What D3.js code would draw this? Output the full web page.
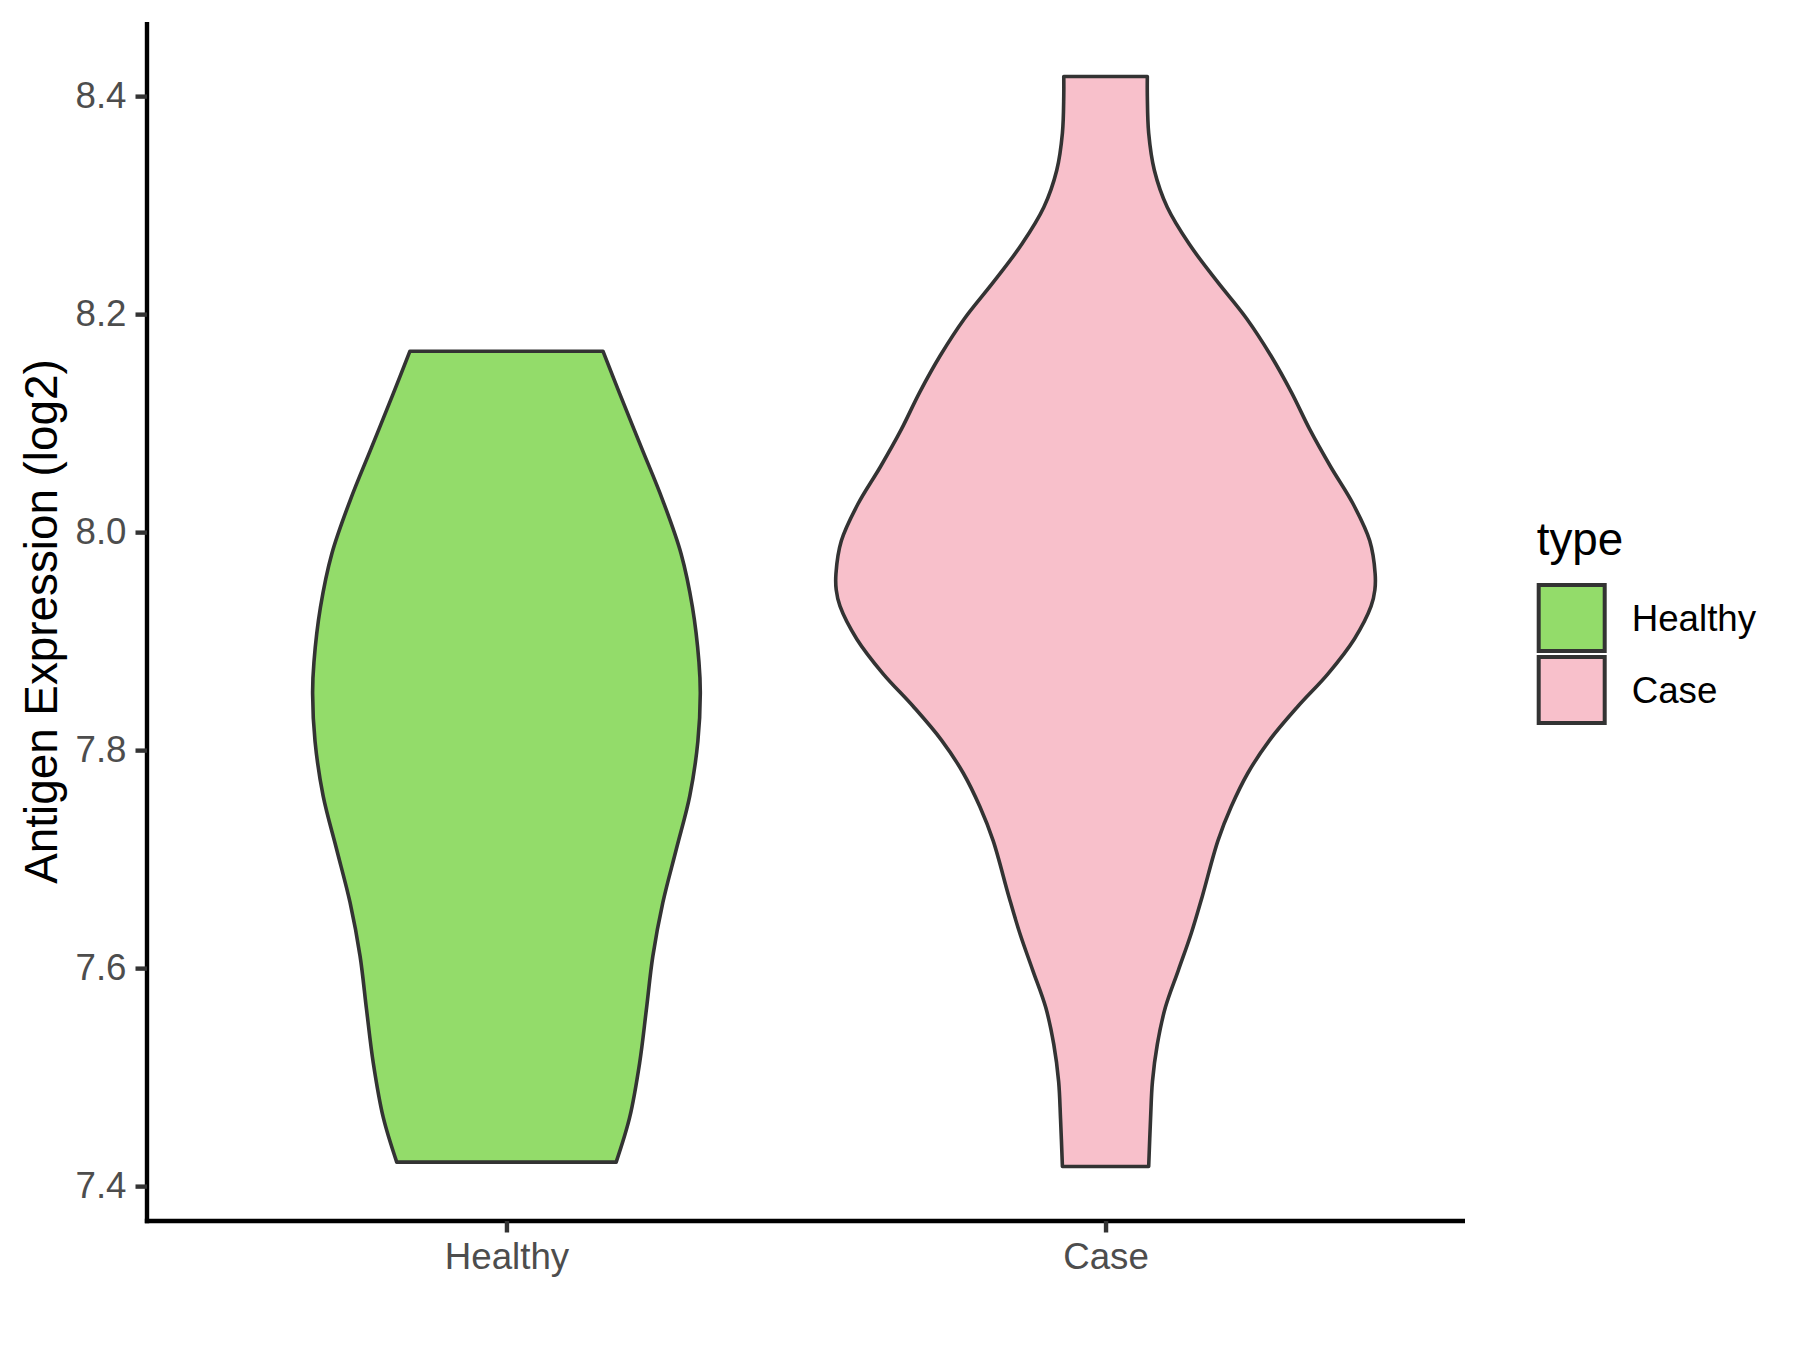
<!DOCTYPE html>
<html>
<head>
<meta charset="utf-8">
<script src="https://cdn.jsdelivr.net/npm/d3@7"></script>
<style>
  body { margin: 0; background: #fff; }
  text { font-family: "Liberation Sans", Arial, sans-serif; }
</style>
</head>
<body>
<div id="chart"></div>
<script>
// groups on the x axis
var categories = ["Healthy", "Case"];
var yTicks = [7.4, 7.6, 7.8, 8.0, 8.2, 8.4];

// violin outlines: expression value and scaled density (1 = widest)
var healthyY = [8.166, 8.127, 8.078, 8.029, 7.980, 7.931, 7.881, 7.852, 7.808, 7.758,
  7.709, 7.660, 7.611, 7.562, 7.513, 7.463, 7.422];
var healthyW = [0.358, 0.420, 0.500, 0.580, 0.648, 0.690, 0.714, 0.719, 0.710, 0.680,
  0.630, 0.580, 0.543, 0.519, 0.494, 0.457, 0.407];

var caseY = [8.418, 8.400, 8.366, 8.332, 8.298, 8.264, 8.230, 8.196, 8.162, 8.128,
  8.094, 8.060, 8.026, 7.992, 7.962, 7.947, 7.932, 7.902, 7.870, 7.840, 7.809,
  7.779, 7.748, 7.717, 7.666, 7.632, 7.598, 7.564, 7.530, 7.496, 7.462, 7.418];
var caseW = [0.155, 0.155, 0.160, 0.181, 0.229, 0.311, 0.414, 0.523, 0.613, 0.690,
  0.758, 0.835, 0.918, 0.980, 1.000, 0.999, 0.985, 0.923, 0.825, 0.713, 0.608,
  0.528, 0.466, 0.417, 0.359, 0.318, 0.270, 0.222, 0.192, 0.174, 0.167, 0.160];

var fills = { Healthy: "#93dc6a", Case: "#f8c0cb" };
var outline = "#333333";

var width = 1800,
  height = 1350;
var padL = 147, padR = 1465, padT = 22, padB = 1221; // panel edges

var svg = d3.select("#chart")
  .append("svg")
  .attr("width", width)
  .attr("height", height)
  .style("background", "#fff");

// y domain: data range plus 5% each side like ggplot
var ymin = d3.min(caseY.concat(healthyY)),
  ymax = d3.max(caseY.concat(healthyY));
var pad = (ymax - ymin) * 0.05;
var y = d3.scaleLinear()
  .domain([ymin - pad, ymax + pad])
  .range([padB, padT]);

var x = d3.scalePoint()
  .domain(categories)
  .range([padL, padR])
  .padding(0.6);

// half width of the widest violin is 0.45 of a category step
var w = d3.scaleLinear()
  .domain([0, 1])
  .range([0, x.step() * 0.45]);

var groups = [
  { name: "Healthy", pts: healthyY.map(function(v, i) { return [v, healthyW[i]]; }) },
  { name: "Case", pts: caseY.map(function(v, i) { return [v, caseW[i]]; }) }
];

groups.forEach(function(g) {
  var cx = x(g.name);
  var area = d3.area()
    .y(function(d) { return y(d[0]); })
    .x0(function(d) { return cx - w(d[1]); })
    .x1(function(d) { return cx + w(d[1]); })
    .curve(d3.curveCatmullRom.alpha(0.5));
  svg.append("path")
    .datum(g.pts)
    .attr("d", area)
    .attr("fill", fills[g.name])
    .attr("stroke", outline)
    .attr("stroke-width", 3.6)
    .attr("stroke-linejoin", "round");
});

// axes
var yAxis = svg.append("g")
  .attr("transform", "translate(" + padL + ",0)")
  .call(d3.axisLeft(y).tickValues(yTicks).tickFormat(d3.format(".1f"))
    .tickSize(11.5).tickSizeOuter(0).tickPadding(9));

var xAxis = svg.append("g")
  .attr("transform", "translate(0," + padB + ")")
  .call(d3.axisBottom(x).tickSize(11.5).tickSizeOuter(0).tickPadding(9));

[yAxis, xAxis].forEach(function(a) {
  a.select(".domain").attr("stroke", "#000").attr("stroke-width", 4.4);
  a.selectAll(".tick line").attr("stroke", outline).attr("stroke-width", 4.4);
  a.selectAll(".tick text")
    .attr("fill", "#4d4d4d")
    .style("font-size", "36.7px")
    .style("font-family", "'Liberation Sans', Arial, sans-serif");
});
yAxis.select(".domain").attr("d", "M0," + padT + "V" + (padB + 2.2));
xAxis.select(".domain").attr("d", "M" + (padL - 2.2) + ",0H" + padR);
xAxis.selectAll(".tick text").attr("dy", "0.74em");

svg.append("text")
  .attr("transform", "translate(57," + ((padT + padB) / 2) + ") rotate(-90)")
  .attr("text-anchor", "middle")
  .style("font-size", "45.8px")
  .attr("fill", "#000")
  .text("Antigen Expression (log2)");

// legend
var legend = svg.append("g").attr("transform", "translate(1536.7,0)");
legend.append("text")
  .attr("x", 0)
  .attr("y", 555)
  .style("font-size", "45.8px")
  .attr("fill", "#000")
  .text("type");

var keys = legend.selectAll("g.key")
  .data(categories)
  .enter()
  .append("g")
  .attr("class", "key")
  .attr("transform", function(d, i) { return "translate(0," + (582 + i * 72) + ")"; });

keys.append("rect")
  .attr("x", 2)
  .attr("y", 3)
  .attr("width", 66)
  .attr("height", 66)
  .attr("fill", function(d) { return fills[d]; })
  .attr("stroke", outline)
  .attr("stroke-width", 4);

keys.append("text")
  .attr("x", 95)
  .attr("y", 36)
  .attr("dy", "0.35em")
  .style("font-size", "36.7px")
  .attr("fill", "#000")
  .text(function(d) { return d; });
</script>
</body>
</html>
